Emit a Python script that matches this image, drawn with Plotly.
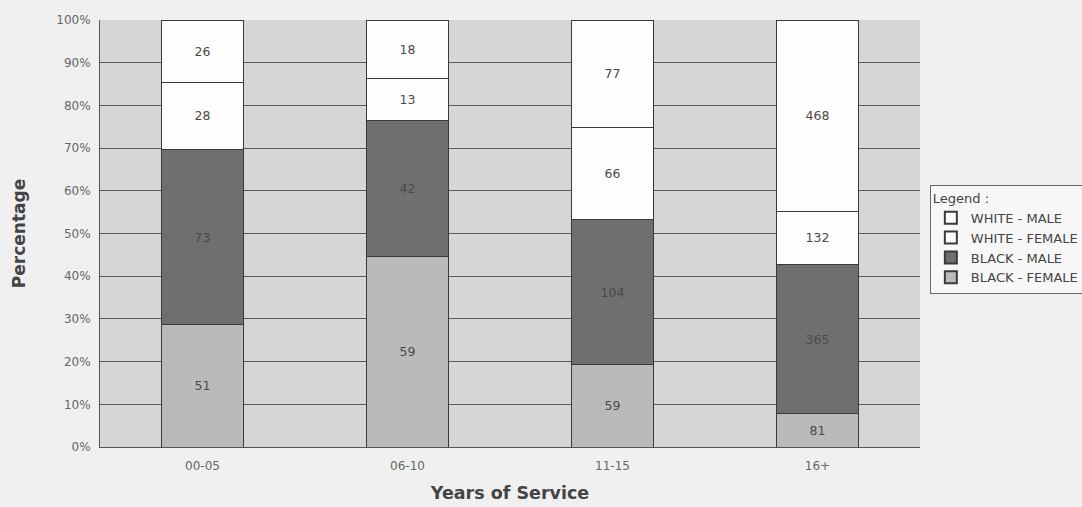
import plotly.graph_objects as go

categories = ["00-05", "06-10", "11-15", "16+"]
black_female = [51, 59, 59, 81]
black_male = [73, 42, 104, 365]
white_female = [28, 13, 66, 132]
white_male = [26, 18, 77, 468]

series = [
    ("BLACK - FEMALE", black_female, "#bababa"),
    ("BLACK - MALE", black_male, "#6f6f6f"),
    ("WHITE - FEMALE", white_female, "#fdfdfd"),
    ("WHITE - MALE", white_male, "#fdfdfd"),
]

FONT = "DejaVu Sans, Liberation Sans, Arial"

fig = go.Figure()
for name, vals, col in series:
    fig.add_trace(go.Bar(
        x=categories, y=vals, name=name,
        marker=dict(color=col, line=dict(color="#3a3a3a", width=1)),
        text=[str(v) for v in vals], textposition="inside",
        insidetextanchor="middle",
        textfont=dict(family=FONT, size=12.5, color="#4a4a4a"),
        constraintext="none",
    ))

fig.update_layout(
    barmode="stack", barnorm="percent", bargap=0.6,
    width=1082, height=507,
    margin=dict(l=100, r=162, t=20, b=60, autoexpand=False),
    paper_bgcolor="#f0f0f0", plot_bgcolor="#d6d6d6",
    font=dict(family=FONT, size=12, color="#555555"),
    showlegend=True,
    legend=dict(
        title=dict(text="Legend :", font=dict(size=13, color="#444444")),
        traceorder="reversed", x=1.012, xanchor="left", y=0.614, yanchor="top",
        bgcolor="#f7f7f7", bordercolor="#666666", borderwidth=1,
        font=dict(size=13, color="#444444"), itemsizing="constant",
        itemwidth=30, tracegroupgap=0,
    ),
)
fig.update_yaxes(
    range=[0, 100], dtick=10, ticksuffix="%",
    showgrid=True, gridcolor="#5a5a5a", gridwidth=1,
    showline=True, linecolor="#555555", linewidth=1,
    title=dict(text="<b>Percentage</b>", font=dict(size=17, color="#444444"), standoff=26),
    tickfont=dict(size=12, color="#666666"),
    ticklabelstandoff=6,
    zeroline=False,
)
fig.update_xaxes(
    type="category",
    showline=True, linecolor="#555555", linewidth=1,
    title=dict(text="<b>Years of Service</b>", font=dict(size=17.5, color="#444444"), standoff=14),
    tickfont=dict(size=12, color="#666666"),
    ticklabelstandoff=8,
    ticks="",
)

fig.write_html(
    "out.html",
    config={"displayModeBar": False},
    post_script="document.body.style.margin='0';document.body.style.background='#f0f0f0';",
)
